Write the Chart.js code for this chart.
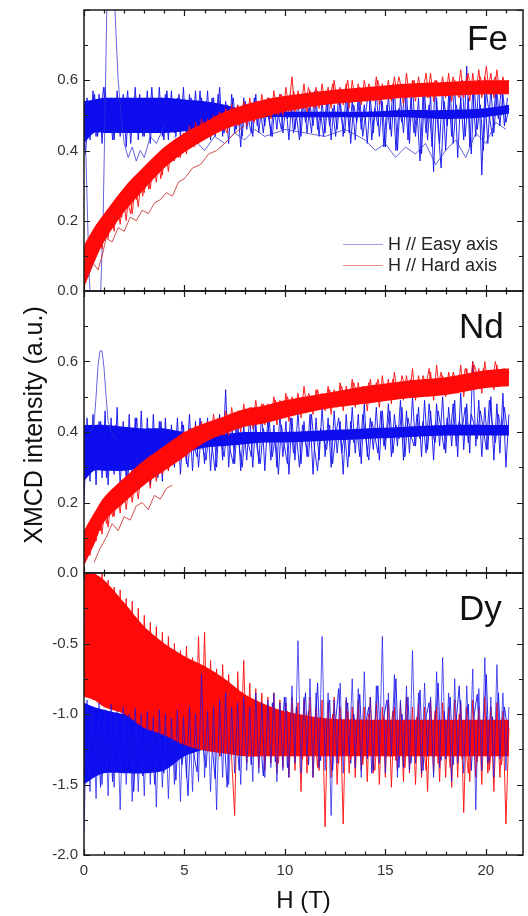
<!DOCTYPE html>
<html><head><meta charset="utf-8">
<script src="https://cdn.jsdelivr.net/npm/chart.js@4.4.0/dist/chart.umd.min.js"></script>
<style>
html,body{margin:0;padding:0;background:#fff;width:528px;height:916px;overflow:hidden;font-family:'Liberation Sans',Arial,sans-serif;}
#wrap{position:relative;width:528px;height:916px;overflow:hidden;}
canvas{position:absolute;left:0;}
.plab{position:absolute;font-size:35px;line-height:35px;color:#111;white-space:nowrap;}
#ytitle{position:absolute;left:-117px;top:410px;width:300px;height:30px;line-height:30px;text-align:center;font-size:25px;color:#111;transform:rotate(-90deg);transform-origin:50% 50%;white-space:nowrap;}
.lgline{position:absolute;left:343px;width:40px;height:1px;}
.lgtext{position:absolute;left:388px;height:20px;line-height:20px;font-size:18px;color:#222;white-space:nowrap;}
</style></head><body>
<div id="wrap">
<canvas id="cFe" width="528" height="311" style="top:-5px"></canvas>
<canvas id="cNd" width="528" height="312" style="top:276px"></canvas>
<canvas id="cDy" width="528" height="358" style="top:558px"></canvas>
<div id="ytitle">XMCD intensity (a.u.)</div>
<div class="plab" style="left:467px;top:20px">Fe</div>
<div class="plab" style="left:459px;top:308px">Nd</div>
<div class="plab" style="left:459px;top:590px">Dy</div>
<div class="lgline" style="top:244px;background:rgba(90,90,225,0.6)"></div>
<div class="lgtext" style="top:234px">H // Easy axis</div>
<div class="lgline" style="top:265px;background:rgba(225,80,80,0.65)"></div>
<div class="lgtext" style="top:255px">H // Hard axis</div>
</div>
<script>
// ---------- axis ticks ----------
const H_LABELS = [0, 5, 10, 15, 20];
const FE_Y_LABELS = [0, 0.2, 0.4, 0.6];
const ND_Y_LABELS = [0, 0.2, 0.4, 0.6];
const DY_Y_LABELS = [-2.0, -1.5, -1.0, -0.5];
const FIELD_STEP_T = 0.15;            // sampling step of the noisy sweeps (T)
const ENV_H = [0, 0.5, 1, 2, 3, 4, 5, 6, 7, 8, 9, 10, 12, 14, 16, 18, 20, 21.15];

// ---------- Fe ----------
const feEasyUpper = [0.54,0.545,0.55,0.55,0.55,0.55,0.545,0.54,0.53,0.515,0.51,0.51,0.51,0.51,0.515,0.515,0.52,0.53];
const feEasyLower = [0.42,0.45,0.45,0.45,0.45,0.45,0.455,0.46,0.47,0.49,0.495,0.495,0.495,0.495,0.495,0.49,0.495,0.505];
const feHardUpper = [0.13,0.18,0.22,0.295,0.355,0.41,0.45,0.48,0.51,0.53,0.545,0.555,0.57,0.58,0.59,0.595,0.60,0.60];
const feHardLower = [0.01,0.08,0.14,0.225,0.29,0.35,0.395,0.43,0.46,0.48,0.495,0.51,0.53,0.54,0.55,0.555,0.56,0.56];
const feEasyNoise = [
0.40,0.55,0.43,0.57,0.44,0.56,0.42,0.58,0.45,0.55,
0.43,0.57,0.44,0.56,0.41,0.55,0.45,0.58,0.43,0.54,
0.44,0.57,0.42,0.55,0.45,0.58,0.44,0.56,0.43,0.57,
0.45,0.55,0.44,0.58,0.42,0.56,0.45,0.57,0.44,0.55,
0.46,0.57,0.43,0.55,0.45,0.58,0.44,0.54,0.42,0.56,
0.45,0.53,0.41,0.55,0.46,0.52,0.44,0.56,0.45,0.53,
0.47,0.55,0.44,0.54,0.46,0.56,0.45,0.53,0.43,0.55,
0.46,0.54,0.44,0.56,0.45,0.53,0.47,0.55,0.44,0.54,
0.45,0.56,0.43,0.53,0.46,0.55,0.44,0.57,0.45,0.54,
0.43,0.56,0.46,0.53,0.42,0.55,0.45,0.57,0.44,0.54,
0.41,0.56,0.44,0.58,0.40,0.55,0.45,0.57,0.42,0.59,
0.44,0.55,0.39,0.57,0.43,0.56,0.34,0.55,0.42,0.58,
0.40,0.56,0.44,0.59,0.38,0.55,0.43,0.64,0.41,0.57,
0.44,0.60,0.33,0.56,0.42,0.58,0.45,0.57,0.47,0.56,
0.48,0.52];
const feEasyNoise2 = [
0.39,0.52,0.47,0.56,0.44,0.50,0.58,0.46,0.53,0.43,
0.51,0.55,0.45,0.49,0.57,0.42,0.54,0.48,0.56,0.44,
0.50,0.46,0.58,0.45,0.52,0.55,0.43,0.57,0.47,0.53,
0.44,0.56,0.49,0.53,0.42,0.55,0.50,0.46,0.57,0.45,
0.52,0.47,0.55,0.44,0.56,0.50,0.45,0.53,0.48,0.55,
0.46,0.51,0.44,0.54,0.49,0.45,0.55,0.47,0.52,0.45,
0.53,0.48,0.44,0.55,0.50,0.46,0.54,0.49,0.56,0.45,
0.50,0.43,0.55,0.48,0.52,0.45,0.57,0.46,0.51,0.44,
0.54,0.47,0.52,0.44,0.56,0.49,0.45,0.55,0.42,0.53,
0.48,0.55,0.44,0.51,0.57,0.43,0.52,0.47,0.56,0.41,
0.53,0.46,0.57,0.40,0.52,0.48,0.58,0.43,0.55,0.45,
0.51,0.37,0.56,0.45,0.53,0.41,0.58,0.46,0.35,0.54,
0.47,0.57,0.42,0.53,0.49,0.60,0.44,0.55,0.39,0.58,
0.46,0.53,0.40,0.57,0.50,0.44,0.56,0.49,0.58,0.47,
0.55];
const feHardNoise = [
0.03,0.14,0.06,0.17,0.10,0.19,0.12,0.22,0.15,0.23,
0.17,0.25,0.19,0.27,0.20,0.29,0.22,0.30,0.24,0.32,
0.28,0.35,0.29,0.37,0.31,0.39,0.33,0.41,0.34,0.42,
0.37,0.43,0.38,0.45,0.39,0.47,0.41,0.48,0.42,0.49,
0.43,0.49,0.44,0.50,0.45,0.51,0.46,0.52,0.47,0.53,
0.47,0.53,0.48,0.54,0.47,0.55,0.49,0.54,0.50,0.56,
0.50,0.55,0.49,0.57,0.51,0.56,0.50,0.58,0.52,0.61,
0.51,0.57,0.52,0.59,0.51,0.57,0.53,0.58,0.52,0.59,
0.53,0.58,0.52,0.60,0.54,0.58,0.53,0.59,0.52,0.60,
0.54,0.59,0.53,0.60,0.55,0.58,0.54,0.61,0.53,0.59,
0.55,0.60,0.54,0.61,0.55,0.59,0.53,0.62,0.55,0.60,
0.54,0.61,0.56,0.59,0.55,0.62,0.54,0.60,0.56,0.61,
0.55,0.62,0.54,0.60,0.56,0.63,0.55,0.61,0.54,0.62,
0.56,0.63,0.55,0.61,0.57,0.62,0.55,0.63,0.56,0.61,
0.57,0.60];
const feHardNoise2 = [
0.12,0.06,0.15,0.11,0.19,0.13,0.16,0.22,0.17,0.24,
0.20,0.26,0.21,0.27,0.25,0.22,0.30,0.26,0.32,0.27,
0.34,0.29,0.36,0.33,0.38,0.32,0.39,0.36,0.42,0.37,
0.41,0.38,0.44,0.40,0.43,0.46,0.41,0.45,0.43,0.48,
0.44,0.47,0.45,0.49,0.46,0.50,0.47,0.45,0.51,0.48,
0.50,0.47,0.52,0.49,0.53,0.50,0.48,0.54,0.51,0.53,
0.51,0.55,0.52,0.54,0.50,0.56,0.53,0.55,0.51,0.57,
0.54,0.52,0.56,0.53,0.58,0.54,0.52,0.57,0.55,0.53,
0.56,0.54,0.59,0.55,0.53,0.57,0.55,0.60,0.54,0.57,
0.55,0.58,0.56,0.54,0.59,0.57,0.55,0.60,0.56,0.58,
0.57,0.55,0.59,0.56,0.61,0.57,0.55,0.59,0.57,0.60,
0.56,0.59,0.57,0.62,0.55,0.58,0.60,0.56,0.59,0.57,
0.59,0.56,0.61,0.57,0.55,0.60,0.58,0.62,0.56,0.59,
0.57,0.61,0.58,0.64,0.56,0.59,0.61,0.57,0.60,0.58,
0.59];
const feEasySweepH = [0,0.1,0.25,0.35,0.8,0.95,1.15,1.3,1.5,1.7,1.85,2.0,2.2,2.4,2.6,2.8,3.0,3.3,3.6,4.0];
const feEasySweepY = [0.45,0.38,0.05,-0.05,-0.05,0.2,0.85,0.9,0.85,0.6,0.5,0.42,0.38,0.41,0.37,0.40,0.38,0.44,0.42,0.47];
const feEasyLowH = [4.5,5,5.5,6,6.5,7,7.5,8,8.5,9,10,11,12,13,14,14.5,15,15.5,16,16.5,17,17.5,18,18.5,19,19.5,20,20.5,21];
const feEasyLowY = [0.44,0.41,0.43,0.40,0.44,0.42,0.45,0.43,0.46,0.44,0.46,0.45,0.44,0.46,0.43,0.40,0.42,0.38,0.41,0.39,0.42,0.36,0.40,0.43,0.38,0.45,0.42,0.48,0.46];
const feHardLowH = [0.2,0.45,0.7,0.9,1.1,1.4,1.7,2.0,2.3,2.6,2.9,3.2,3.5,3.8,4.1,4.4,4.7,5.0,5.4,5.8,6.2,6.6,7.0,7.5,8.0];
const feHardLowY = [0.04,0.08,0.06,0.10,0.15,0.14,0.18,0.17,0.21,0.20,0.23,0.22,0.25,0.26,0.28,0.27,0.31,0.32,0.35,0.36,0.39,0.40,0.42,0.45,0.47];

// ---------- Nd ----------
const ndEasyUpper = [0.42,0.42,0.42,0.415,0.41,0.41,0.40,0.395,0.395,0.40,0.40,0.40,0.405,0.41,0.415,0.42,0.42,0.42];
const ndEasyLower = [0.26,0.29,0.29,0.29,0.30,0.31,0.34,0.355,0.36,0.365,0.37,0.37,0.375,0.38,0.385,0.39,0.39,0.39];
const ndHardUpper = [0.12,0.17,0.215,0.27,0.32,0.36,0.40,0.425,0.445,0.465,0.475,0.49,0.51,0.53,0.545,0.555,0.575,0.58];
const ndHardLower = [0.02,0.08,0.145,0.20,0.25,0.29,0.33,0.37,0.395,0.415,0.425,0.44,0.465,0.48,0.495,0.505,0.525,0.53];
const ndEasyNoise = [
0.20,0.44,0.26,0.45,0.25,0.43,0.27,0.46,0.25,0.44,
0.28,0.47,0.24,0.43,0.26,0.45,0.27,0.44,0.25,0.46,
0.27,0.44,0.25,0.45,0.28,0.43,0.26,0.44,0.29,0.42,
0.30,0.44,0.28,0.42,0.31,0.45,0.29,0.43,0.30,0.41,
0.31,0.44,0.29,0.42,0.30,0.45,0.32,0.52,0.30,0.43,
0.31,0.44,0.29,0.42,0.32,0.45,0.30,0.43,0.31,0.46,
0.29,0.44,0.32,0.42,0.30,0.45,0.33,0.43,0.28,0.44,
0.32,0.46,0.31,0.43,0.33,0.45,0.28,0.44,0.32,0.47,
0.33,0.44,0.30,0.46,0.34,0.43,0.28,0.45,0.33,0.47,
0.34,0.45,0.31,0.48,0.33,0.44,0.35,0.47,0.32,0.46,
0.35,0.48,0.33,0.45,0.36,0.49,0.32,0.46,0.34,0.50,
0.36,0.47,0.33,0.49,0.35,0.46,0.32,0.48,0.36,0.50,
0.34,0.47,0.36,0.49,0.33,0.51,0.35,0.48,0.34,0.60,
0.36,0.49,0.33,0.47,0.35,0.50,0.32,0.48,0.34,0.51,
0.30,0.45];
const ndEasyNoise2 = [
0.33,0.28,0.41,0.35,0.30,0.43,0.37,0.27,0.39,0.32,
0.42,0.29,0.36,0.40,0.26,0.38,0.33,0.44,0.31,0.37,
0.29,0.41,0.34,0.38,0.27,0.43,0.35,0.31,0.40,0.33,
0.38,0.32,0.43,0.35,0.30,0.41,0.36,0.33,0.44,0.35,
0.32,0.40,0.36,0.29,0.43,0.37,0.33,0.41,0.35,0.31,
0.42,0.36,0.30,0.40,0.37,0.33,0.44,0.35,0.31,0.41,
0.37,0.43,0.33,0.39,0.28,0.42,0.36,0.31,0.44,0.34,
0.39,0.30,0.42,0.37,0.33,0.45,0.35,0.29,0.41,0.38,
0.35,0.42,0.31,0.39,0.44,0.34,0.40,0.30,0.43,0.37,
0.41,0.33,0.45,0.38,0.32,0.43,0.39,0.34,0.46,0.36,
0.40,0.46,0.34,0.42,0.38,0.47,0.33,0.44,0.39,0.36,
0.45,0.38,0.43,0.34,0.48,0.40,0.37,0.46,0.41,0.35,
0.44,0.39,0.48,0.36,0.43,0.41,0.47,0.37,0.45,0.42,
0.38,0.46,0.41,0.35,0.49,0.42,0.37,0.45,0.40,0.47,
0.40];
const ndHardNoise = [
0.01,0.12,0.05,0.15,0.09,0.18,0.11,0.20,0.13,0.21,
0.16,0.23,0.17,0.25,0.18,0.26,0.20,0.27,0.21,0.29,
0.25,0.31,0.24,0.33,0.26,0.35,0.28,0.36,0.29,0.37,
0.31,0.38,0.32,0.40,0.33,0.41,0.35,0.42,0.36,0.43,
0.37,0.43,0.38,0.45,0.39,0.44,0.40,0.46,0.39,0.47,
0.41,0.46,0.40,0.48,0.42,0.47,0.41,0.49,0.43,0.48,
0.42,0.48,0.43,0.50,0.42,0.49,0.44,0.51,0.43,0.50,
0.45,0.51,0.44,0.53,0.46,0.50,0.45,0.52,0.47,0.51,
0.46,0.53,0.45,0.52,0.47,0.54,0.46,0.53,0.48,0.55,
0.47,0.54,0.48,0.53,0.46,0.55,0.49,0.54,0.47,0.56,
0.49,0.55,0.48,0.57,0.50,0.54,0.49,0.56,0.50,0.58,
0.49,0.56,0.51,0.55,0.50,0.57,0.49,0.59,0.51,0.56,
0.50,0.57,0.52,0.56,0.51,0.59,0.50,0.58,0.52,0.60,
0.53,0.58,0.51,0.60,0.53,0.57,0.52,0.59,0.54,0.58,
0.53,0.57];
const ndHardNoise2 = [
0.10,0.05,0.13,0.09,0.16,0.12,0.18,0.14,0.20,0.16,
0.22,0.19,0.24,0.21,0.26,0.23,0.25,0.28,0.24,0.29,
0.27,0.31,0.29,0.33,0.30,0.35,0.31,0.34,0.32,0.36,
0.34,0.38,0.35,0.37,0.40,0.36,0.41,0.38,0.42,0.39,
0.41,0.38,0.43,0.40,0.44,0.41,0.39,0.45,0.42,0.44,
0.43,0.46,0.42,0.45,0.44,0.47,0.43,0.46,0.44,0.48,
0.45,0.47,0.44,0.49,0.46,0.48,0.45,0.50,0.47,0.49,
0.48,0.46,0.50,0.47,0.51,0.49,0.47,0.52,0.48,0.50,
0.49,0.52,0.48,0.51,0.50,0.53,0.49,0.52,0.50,0.54,
0.51,0.49,0.53,0.50,0.54,0.51,0.49,0.55,0.52,0.50,
0.53,0.51,0.55,0.52,0.50,0.56,0.53,0.51,0.55,0.52,
0.54,0.51,0.56,0.53,0.58,0.52,0.55,0.53,0.57,0.52,
0.55,0.52,0.57,0.54,0.56,0.53,0.58,0.55,0.53,0.59,
0.56,0.53,0.58,0.55,0.57,0.54,0.60,0.56,0.54,0.58,
0.56];
const ndEasyPeakH = [0.3,0.5,0.6,0.7,0.8,0.9,1.0,1.1,1.2,1.35,1.6];
const ndEasyPeakY = [0.40,0.42,0.50,0.59,0.63,0.63,0.58,0.50,0.43,0.40,0.38];
const ndHardLowH = [0.5,0.8,1.1,1.4,1.7,2.0,2.3,2.6,2.9,3.2,3.5,3.8,4.1,4.4];
const ndHardLowY = [0.03,0.07,0.10,0.14,0.12,0.16,0.15,0.19,0.20,0.18,0.22,0.21,0.24,0.25];

// ---------- Dy ----------
const dyEasyUpper = [-0.92,-0.95,-0.97,-1.0,-1.0,-1.0,-1.03,-1.05,-1.06,-1.06,-1.06,-1.06,-1.06,-1.06,-1.06,-1.06,-1.06,-1.06];
const dyEasyLower = [-1.5,-1.45,-1.42,-1.42,-1.42,-1.40,-1.30,-1.25,-1.2,-1.18,-1.16,-1.15,-1.15,-1.15,-1.15,-1.15,-1.15,-1.15];
const dyHardUpper = [0.05,0.0,-0.05,-0.21,-0.38,-0.50,-0.59,-0.66,-0.75,-0.86,-0.93,-0.98,-1.03,-1.04,-1.04,-1.04,-1.04,-1.04];
const dyHardLower = [-0.88,-0.90,-0.95,-1.0,-1.1,-1.15,-1.22,-1.26,-1.28,-1.30,-1.30,-1.30,-1.30,-1.30,-1.30,-1.30,-1.30,-1.30];
const dyEasyNoise = [
-1.85,-0.90,-1.55,-0.95,-1.60,-0.92,-1.50,-0.97,-1.58,-0.93,
-1.52,-0.98,-1.68,-0.95,-1.50,-1.00,-1.62,-0.96,-1.55,-1.00,
-1.58,-0.98,-1.50,-1.02,-1.66,-0.97,-1.52,-1.00,-1.60,-1.03,
-1.50,-0.97,-1.62,-1.02,-1.45,-0.95,-1.55,-1.00,-1.48,-0.72,
-1.45,-0.98,-1.55,-0.95,-1.68,-0.90,-1.45,-0.85,-1.50,-0.95,
-1.42,-0.92,-1.50,-0.88,-1.40,-0.95,-1.48,-0.85,-1.42,-0.92,
-1.45,-0.90,-1.38,-0.85,-1.48,-0.92,-1.40,-0.88,-1.45,-0.80,
-1.35,-0.48,-1.42,-0.88,-1.30,-0.75,-1.45,-0.85,-1.38,-0.45,
-1.40,-0.85,-1.72,-0.90,-1.35,-0.78,-1.42,-0.88,-1.30,-0.75,
-1.38,-0.82,-1.45,-0.70,-1.32,-0.88,-1.40,-0.80,-1.35,-0.45,
-1.42,-0.85,-1.30,-0.72,-1.45,-0.90,-1.38,-0.80,-1.40,-0.55,
-1.35,-0.85,-1.42,-0.78,-1.30,-0.88,-1.45,-0.70,-1.38,-0.60,
-1.32,-0.85,-1.48,-0.75,-1.35,-0.90,-1.42,-0.80,-1.30,-0.68,
-1.68,-0.82,-1.40,-0.60,-1.35,-0.88,-1.45,-0.65,-1.32,-0.85,
-1.40,-0.95];
const dyEasyNoise2 = [
-1.20,-1.45,-0.98,-1.30,-1.10,-1.52,-1.05,-1.38,-1.15,-1.48,
-1.02,-1.25,-1.40,-0.97,-1.33,-1.12,-1.55,-1.08,-1.28,-1.44,
-1.00,-1.35,-1.18,-1.50,-1.06,-1.27,-1.42,-0.99,-1.31,-1.14,
-1.47,-1.04,-1.36,-1.20,-1.58,-1.09,-1.29,-1.41,-1.01,-1.24,
-1.38,-1.07,-1.22,-1.46,-0.96,-1.30,-1.15,-1.52,-1.03,-1.27,
-1.12,-1.40,-0.94,-1.25,-1.08,-1.36,-0.99,-1.30,-1.17,-1.44,
-1.05,-1.28,-0.92,-1.34,-1.10,-1.22,-0.88,-1.38,-1.06,-1.25,
-0.95,-1.30,-1.12,-0.85,-1.36,-1.02,-1.20,-0.78,-1.33,-1.08,
-1.24,-0.90,-1.40,-1.05,-0.82,-1.28,-1.12,-0.92,-1.35,-1.00,
-1.18,-0.86,-1.32,-1.06,-0.95,-1.42,-1.10,-0.80,-1.26,-1.02,
-0.90,-1.30,-1.08,-0.75,-1.38,-1.00,-1.22,-0.88,-1.35,-1.05,
-1.15,-0.83,-1.40,-1.02,-0.92,-1.28,-1.10,-0.78,-1.33,-0.98,
-1.20,-0.88,-1.36,-1.05,-0.80,-1.30,-1.12,-0.93,-1.40,-1.00,
-0.86,-1.25,-1.08,-0.72,-1.35,-1.02,-1.18,-0.85,-1.30,-0.95,
-1.10];
const dyHardNoise = [
0.05,-0.85,0.02,-0.90,-0.02,-0.88,0.0,-0.95,-0.05,-0.92,
-0.10,-0.98,-0.12,-0.95,-0.18,-1.02,-0.20,-0.98,-0.25,-1.05,
-0.30,-1.08,-0.35,-1.02,-0.38,-1.10,-0.42,-1.05,-0.45,-1.15,
-0.50,-1.12,-0.55,-1.18,-0.52,-1.15,-0.60,-1.20,-0.45,-1.22,
-0.42,-1.25,-0.62,-1.20,-0.68,-1.30,-0.65,-1.25,-0.72,-1.32,
-1.72,-0.70,-1.28,-0.62,-1.35,-0.78,-1.30,-0.82,-1.38,-0.85,
-1.40,-0.88,-1.35,-0.85,-1.42,-0.90,-1.38,-0.92,-1.45,-0.88,
-1.40,-0.92,-1.55,-0.90,-1.42,-0.88,-1.45,-0.95,-1.40,-0.90,
-1.80,-0.92,-1.45,-0.88,-1.50,-0.95,-1.78,-0.90,-1.42,-0.95,
-1.45,-0.90,-1.40,-0.95,-1.48,-0.88,-1.42,-0.92,-1.50,-0.95,
-1.45,-0.90,-1.52,-0.95,-1.40,-0.92,-1.48,-0.88,-1.42,-0.95,
-1.50,-0.92,-1.45,-0.95,-1.55,-0.90,-1.42,-0.95,-1.48,-0.92,
-1.45,-0.95,-1.52,-0.90,-1.45,-0.92,-1.70,-0.95,-1.48,-0.90,
-1.45,-0.95,-1.50,-0.88,-1.42,-0.95,-1.55,-0.92,-1.45,-0.98,
-1.78,-1.10];
const dyHardNoise2 = [
-0.30,-0.62,-0.15,-0.78,-0.40,-0.20,-0.70,-0.35,-0.85,-0.25,
-0.55,-0.80,-0.32,-0.65,-0.92,-0.40,-0.72,-0.50,-0.88,-0.45,
-0.75,-0.52,-0.98,-0.62,-0.85,-1.05,-0.58,-0.90,-0.70,-1.08,
-0.68,-0.95,-0.75,-1.10,-0.82,-0.66,-1.02,-0.88,-1.15,-0.76,
-0.92,-1.12,-0.80,-1.02,-1.25,-0.86,-1.08,-0.95,-1.20,-0.88,
-1.05,-0.92,-1.22,-1.00,-1.30,-0.95,-1.15,-1.25,-0.98,-1.18,
-1.08,-1.28,-1.00,-1.20,-1.35,-1.05,-1.22,-0.98,-1.30,-1.12,
-1.25,-1.05,-1.32,-1.15,-0.98,-1.28,-1.10,-1.38,-1.02,-1.22,
-1.12,-1.30,-1.00,-1.25,-1.35,-1.08,-1.20,-0.98,-1.32,-1.15,
-1.28,-1.05,-1.36,-1.12,-1.00,-1.25,-1.40,-1.10,-1.22,-1.02,
-1.30,-1.15,-0.98,-1.33,-1.08,-1.25,-1.38,-1.05,-1.20,-1.12,
-1.02,-1.30,-1.18,-1.40,-1.05,-1.22,-0.98,-1.35,-1.12,-1.28,
-1.15,-1.38,-1.05,-1.25,-1.00,-1.32,-1.18,-1.42,-1.08,-1.26,
-1.34,-1.10,-1.28,-1.02,-1.40,-1.15,-1.25,-1.05,-1.36,-1.20,
-1.22];

// ---------- styles ----------
const BLUE_BAND = 'rgb(12,12,240)';
const BLUE_NOISE = 'rgba(15,15,235,0.9)';
const BLUE_THIN = 'rgba(50,50,210,0.75)';
const RED_BAND = 'rgb(255,8,8)';
const RED_NOISE = 'rgba(255,12,12,0.9)';
const RED_THIN = 'rgba(200,35,35,0.8)';
const H_MAX = 21.85;

Chart.defaults.font.family = "'Liberation Sans', Arial, sans-serif";

function pts(xs, ys) { return ys.map((y, i) => ({x: xs[i], y})); }
function gridOf(ys, offset) { return ys.map((_, i) => +((offset || 0) + i * FIELD_STEP_T).toFixed(3)); }
function line(xs, ys, color, width) {
  return {data: pts(xs, ys), borderColor: color, borderWidth: width, pointRadius: 0,
          fill: false, tension: 0, borderJoinStyle: 'bevel'};
}
function noise(ys, offset, color) { return line(gridOf(ys, offset), ys, color, 1); }
function band(upper, lower, color) {
  return [
    {data: pts(ENV_H, upper), borderWidth: 0, borderColor: 'transparent', pointRadius: 0, tension: 0.3, fill: '+1', backgroundColor: color},
    {data: pts(ENV_H, lower), borderWidth: 0, borderColor: 'transparent', pointRadius: 0, tension: 0.3, fill: false}
  ];
}
function ordered(list) { list.forEach((d, i) => d.order = -i); return list; }

const frameTicks = {
  id: 'frameTicks',
  afterDatasetsDraw(chart, args, opts) {
    const {ctx, chartArea: a, scales: {x, y}} = chart;
    ctx.save();
    ctx.strokeStyle = '#1a1a1a';
    ctx.lineWidth = 1.5;
    ctx.strokeRect(a.left, a.top, a.right - a.left, a.bottom - a.top);
    ctx.lineWidth = 1.2;
    ctx.beginPath();
    for (let h = 0; h <= Math.floor(x.max); h++) {
      const px = Math.round(x.getPixelForValue(h)) + 0.5;
      const len = h % 5 === 0 ? 6 : 3.5;
      ctx.moveTo(px, a.bottom); ctx.lineTo(px, a.bottom - len);
      ctx.moveTo(px, a.top); ctx.lineTo(px, a.top + len);
    }
    const n = Math.round((y.max - y.min) / opts.minor);
    for (let k = 0; k <= n; k++) {
      const v = y.min + k * opts.minor;
      const py = Math.round(y.getPixelForValue(v)) + 0.5;
      const len = k % opts.every === 0 ? 6 : 4;
      ctx.moveTo(a.left, py); ctx.lineTo(a.left + len, py);
      ctx.moveTo(a.right, py); ctx.lineTo(a.right - len, py);
    }
    ctx.stroke();
    ctx.restore();
  }
};

function yScale(min, max, labels) {
  return {
    type: 'linear', min, max,
    afterFit(s) { s.width = 84; },
    afterBuildTicks(s) { s.ticks = labels.map(v => ({value: v})); },
    ticks: {padding: 6, color: '#333', font: {size: 15}, callback: v => Number(v).toFixed(1)},
    grid: {display: false, drawTicks: false},
    border: {display: false}
  };
}
function xHidden() {
  return {type: 'linear', min: 0, max: H_MAX, display: false};
}
function baseOptions(padding, scales, minor, every) {
  return {
    responsive: false, animation: false, events: [],
    layout: {padding, autoPadding: false},
    plugins: {legend: {display: false}, tooltip: {enabled: false}, frameTicks: {minor, every}},
    scales
  };
}

// Fe panel
new Chart(document.getElementById('cFe'), {
  type: 'line',
  data: {datasets: ordered([
    ...band(feEasyUpper, feEasyLower, BLUE_BAND),
    noise(feEasyNoise, 0, BLUE_NOISE),
    noise(feEasyNoise2, 0.075, BLUE_NOISE),
    line(feEasySweepH, feEasySweepY, BLUE_THIN, 1),
    line(feEasyLowH, feEasyLowY, BLUE_THIN, 1),
    ...band(feHardUpper, feHardLower, RED_BAND),
    noise(feHardNoise, 0, RED_NOISE),
    noise(feHardNoise2, 0.075, RED_NOISE),
    line(feHardLowH, feHardLowY, RED_THIN, 1)
  ])},
  options: baseOptions({top: 15, bottom: 15, left: 0, right: 5},
    {x: xHidden(), y: yScale(0, 0.8, FE_Y_LABELS)}, 0.1, 2),
  plugins: [frameTicks]
});

// Nd panel
new Chart(document.getElementById('cNd'), {
  type: 'line',
  data: {datasets: ordered([
    ...band(ndEasyUpper, ndEasyLower, BLUE_BAND),
    noise(ndEasyNoise, 0, BLUE_NOISE),
    noise(ndEasyNoise2, 0.075, BLUE_NOISE),
    line(ndEasyPeakH, ndEasyPeakY, BLUE_THIN, 1),
    ...band(ndHardUpper, ndHardLower, RED_BAND),
    noise(ndHardNoise, 0, RED_NOISE),
    noise(ndHardNoise2, 0.075, RED_NOISE),
    line(ndHardLowH, ndHardLowY, RED_THIN, 1)
  ])},
  options: baseOptions({top: 15, bottom: 15, left: 0, right: 5},
    {x: xHidden(), y: yScale(0, 0.8, ND_Y_LABELS)}, 0.1, 2),
  plugins: [frameTicks]
});

// Dy panel
new Chart(document.getElementById('cDy'), {
  type: 'line',
  data: {datasets: ordered([
    ...band(dyEasyUpper, dyEasyLower, BLUE_BAND),
    noise(dyEasyNoise2, 0.075, 'rgba(20,20,235,0.9)'),
    ...band(dyHardUpper, dyHardLower, RED_BAND),
    noise(dyHardNoise, 0, RED_NOISE),
    noise(dyHardNoise2, 0.075, RED_NOISE),
    noise(dyEasyNoise, 0, 'rgba(20,20,235,0.7)')
  ])},
  options: baseOptions({top: 15, bottom: 0, left: 0, right: 5}, {
    x: {
      type: 'linear', min: 0, max: H_MAX,
      afterFit(s) { s.height = 61; },
      afterBuildTicks(s) { s.ticks = H_LABELS.map(v => ({value: v})); },
      ticks: {padding: 7, color: '#333', font: {size: 15}, maxRotation: 0, callback: v => String(v)},
      grid: {display: false, drawTicks: false},
      border: {display: false},
      title: {display: true, text: 'H (T)', color: '#111', font: {size: 24}, padding: {top: 0, bottom: 0}}
    },
    y: yScale(-2, 0, DY_Y_LABELS)
  }, 0.25, 2),
  plugins: [frameTicks]
});
</script>
</body></html>
